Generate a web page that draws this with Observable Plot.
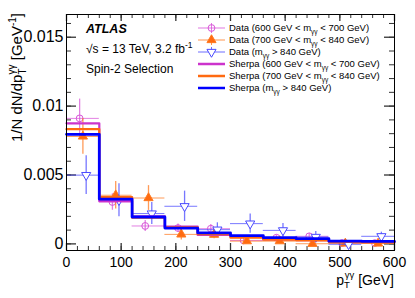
<!DOCTYPE html>
<html>
<head>
<meta charset="utf-8">
<script src="https://cdn.jsdelivr.net/npm/d3@7"></script>
<script src="https://cdn.jsdelivr.net/npm/@observablehq/plot@0.6"></script>
<style>
  html, body { margin: 0; padding: 0; background: #fff; }
  svg text { font-family: "Liberation Sans", Arial, sans-serif; }
</style>
</head>
<body>
<div id="chart"></div>
<script>
// ---- data ----
const binEdges = [0, 60, 120, 180, 240, 300, 360, 420, 480, 540, 600];

const sherpa600 = [0.00875, 0.0031, 0.0020, 0.00125, 0.00065, 0.0005, 0.00032, 0.00028, 0.00015, 0.00014];
const sherpa700 = [0.00833, 0.0034, 0.0019, 0.0012, 0.0007, 0.00045, 0.0003, 0.00025, 0.00015, 0.00012];
const sherpa840 = [0.00795, 0.00325, 0.00195, 0.00115, 0.0008, 0.0006, 0.00045, 0.00038, 0.0002, 0.00018];

const data600 = [0.00911, 0.00304, 0.0013, 0.00115, 0.0011, 0.00025, 0.00045, 0.00055, 0.00006, 0.00006];
const err600  = [0.0014, 0.0006, 0.0004, 0.0003, 0.0003, 0.0002, 0.0002, 0.0002, 0.0001, 0.0001];
const data700 = [0.0078, 0.00353, 0.00333, 0.00069, 0.00067, 0.0002, 0.0002, 0.00001, 0.00003, 0.00003];
const err700  = [0.0013, 0.0010, 0.0009, 0.0004, 0.0003, 0.0002, 0.0002, 0.0001, 0.0001, 0.0001];
const data840 = [0.00499, 0.00317, 0.0022, 0.00273, 0.00103, 0.00147, 0.00098, 0.0005, -0.00003, 0.00055];
const err840  = [0.0014, 0.0012, 0.0008, 0.0011, 0.0005, 0.0007, 0.0005, 0.0004, 0.0002, 0.0003];

const xTickValues = [0, 100, 200, 300, 400, 500, 600];
const yTickValues = [0, 0.005, 0.01, 0.015];
const yTickLabels = ["0", "0.005", "0.01", "0.015"];

// ---- layout ----
const W = 415, H = 298, ML = 66, MR = 21, MT = 14, MB = 48;
const PW = W - ML - MR, PH = H - MT - MB;

const cMag = "#cc33cc", cOra = "#ff6a10", cBlu = "#0000ff";
const cMagD = "#d855d8", cOraD = "#ff7a20", cBluD = "#4a4aff";

function steps(vals) {
  return binEdges.map((e, i) => ({x: e, y: vals[Math.min(i, vals.length - 1)]}));
}
function points(vals, errs, shift) {
  return vals.map((v, i) => {
    const lo = binEdges[i], hi = binEdges[i + 1];
    return {x: (lo + hi) / 2 + shift, lo, hi, y: v, y1: v - errs[i], y2: v + errs[i]};
  });
}
const p600 = points(data600, err600, -6);
const p700 = points(data700, err700, 0);
const p840 = points(data840, err840, 6);

const triangleDown = {
  draw(context, size) {
    const y = Math.sqrt(size / (Math.sqrt(3) * 3));
    context.moveTo(0, y * 2);
    context.lineTo(-Math.sqrt(3) * y, -y);
    context.lineTo(Math.sqrt(3) * y, -y);
    context.closePath();
  }
};

const minorX = d3.range(0, 601, 20);
const minorY = d3.range(0, 0.0165, 0.001);

function errMarks(pts, color, symbol, fill) {
  return [
    Plot.ruleY(pts, {y: "y", x1: "lo", x2: "hi", stroke: color, strokeWidth: 1, strokeOpacity: 0.75}),
    Plot.ruleX(pts, {x: "x", y1: "y1", y2: "y2", stroke: color, strokeWidth: 1.3, strokeOpacity: 0.75}),
    Plot.dot(pts, {x: "x", y: "y", symbol, r: 3.4, stroke: color, strokeWidth: 1, fill})
  ];
}

const chart = Plot.plot({
  width: W, height: H,
  marginLeft: ML, marginRight: MR, marginTop: MT, marginBottom: MB,
  x: {domain: [0, 600]},
  y: {domain: [-0.00048, 0.01665]},
  style: {fontFamily: '"Liberation Sans", Arial, sans-serif', background: "#fff"},
  marks: [
    // inward ticks (ROOT style)
    Plot.tickY(minorY, {y: d => d, insetRight: PW - 5, stroke: "#333"}),
    Plot.tickY(yTickValues, {y: d => d, insetRight: PW - 10, stroke: "#333", strokeWidth: 1.3}),
    Plot.tickY(minorY, {y: d => d, insetLeft: PW - 5, stroke: "#333"}),
    Plot.tickY(yTickValues, {y: d => d, insetLeft: PW - 10, stroke: "#333", strokeWidth: 1.3}),
    Plot.tickX(minorX, {x: d => d, insetTop: PH - 4, stroke: "#333"}),
    Plot.tickX(xTickValues, {x: d => d, insetTop: PH - 7, stroke: "#333", strokeWidth: 1.3}),
    Plot.tickX(minorX, {x: d => d, insetBottom: PH - 4, stroke: "#333"}),
    Plot.tickX(xTickValues, {x: d => d, insetBottom: PH - 7, stroke: "#333", strokeWidth: 1.3}),
    // data
    ...errMarks(p600, cMagD, "circle", "none"),
    ...errMarks(p700, cOraD, "triangle", cOra),
    ...errMarks(p840, cBluD, triangleDown, "white"),
    // Sherpa histograms
    Plot.line(steps(sherpa600), {x: "x", y: "y", curve: "step-after", stroke: cMag, strokeWidth: 2.2}),
    Plot.line(steps(sherpa700), {x: "x", y: "y", curve: "step-after", stroke: cOra, strokeWidth: 2.2}),
    Plot.line(steps(sherpa840), {x: "x", y: "y", curve: "step-after", stroke: cBlu, strokeWidth: 2.8}),
    Plot.frame({stroke: "#000", strokeWidth: 1}),
    Plot.axisY(yTickValues, {tickSize: 0, tickPadding: 3, fontSize: 16, tickFormat: (d, i) => yTickLabels[i], fill: "#000", label: null}),
    Plot.axisX(xTickValues, {tickSize: 0, tickPadding: 7, fontSize: 14, fill: "#000", label: null})
  ]
});

document.getElementById("chart").appendChild(chart);

// ---- annotations ----
const svg = d3.select(chart);
const g = svg.append("g").attr("fill", "#000").attr("text-anchor", "start");

// y title
const yt = g.append("text").attr("transform", "translate(22,13) rotate(-90)")
  .attr("text-anchor", "end").attr("font-size", 15);
yt.append("tspan").text("1/N dN/dp");
yt.append("tspan").attr("font-size", 10).attr("dy", 4).text("T");
yt.append("tspan").attr("font-size", 10).attr("dx", -6).attr("dy", -11).text("γγ");
yt.append("tspan").attr("dy", 7).text(" [GeV");
yt.append("tspan").attr("font-size", 10).attr("dy", -6).text("-1");
yt.append("tspan").attr("dy", 6).text("]");

// x title
const xt = g.append("text").attr("x", 394).attr("y", 285)
  .attr("text-anchor", "end").attr("font-size", 14);
xt.append("tspan").text("p");
xt.append("tspan").attr("font-size", 9.5).attr("dy", 3).text("T");
xt.append("tspan").attr("font-size", 9.5).attr("dx", -5).attr("dy", -10).text("γγ");
xt.append("tspan").attr("dy", 7).text(" [GeV]");

// in-frame labels
g.append("text").attr("x", 86).attr("y", 32.5).attr("font-size", 12.5)
  .attr("font-weight", "bold").attr("font-style", "italic").text("ATLAS");
const s = g.append("text").attr("x", 86).attr("y", 52.5).attr("font-size", 12);
s.append("tspan").text("√s = 13 TeV, 3.2 fb");
s.append("tspan").attr("font-size", 8.5).attr("dy", -5).text("-1");
g.append("text").attr("x", 86).attr("y", 72.5).attr("font-size", 12).text("Spin-2 Selection");

// legend
const legendRows = [
  {kind: "data", color: cMagD, sym: "circle", fill: "none", pre: "Data (600 GeV < m", post: " < 700 GeV)"},
  {kind: "data", color: cOraD, sym: "up", fill: cOra, pre: "Data (700 GeV < m", post: " < 840 GeV)"},
  {kind: "data", color: cBluD, sym: "down", fill: "white", pre: "Data (m", post: " > 840 GeV)"},
  {kind: "mc", color: cMag, pre: "Sherpa (600 GeV < m", post: " < 700 GeV)"},
  {kind: "mc", color: cOra, pre: "Sherpa (700 GeV < m", post: " < 840 GeV)"},
  {kind: "mc", color: cBlu, pre: "Sherpa (m", post: " > 840 GeV)"}
];
legendRows.forEach((r, i) => {
  const cy = 28 + i * 12;
  const lg = g.append("g");
  if (r.kind === "data") {
    lg.append("line").attr("x1", 198).attr("x2", 225).attr("y1", cy).attr("y2", cy)
      .attr("stroke", r.color).attr("stroke-width", 1).attr("stroke-opacity", 0.8);
    lg.append("line").attr("x1", 211.5).attr("x2", 211.5).attr("y1", cy - 5).attr("y2", cy + 5)
      .attr("stroke", r.color).attr("stroke-width", 1).attr("stroke-opacity", 0.8);
    let path;
    if (r.sym === "circle") path = d3.symbol(d3.symbolCircle, 36)();
    else if (r.sym === "up") path = d3.symbol(d3.symbolTriangle, 36)();
    else path = d3.symbol(triangleDown, 36)();
    lg.append("path").attr("d", path).attr("transform", `translate(211.5,${cy})`)
      .attr("fill", r.fill).attr("stroke", r.color).attr("stroke-width", 1);
  } else {
    lg.append("line").attr("x1", 198).attr("x2", 225).attr("y1", cy).attr("y2", cy)
      .attr("stroke", r.color).attr("stroke-width", 2.5);
  }
  const t = lg.append("text").attr("x", 229).attr("y", cy + 3.4).attr("font-size", 9.5).attr("fill", "#000");
  t.append("tspan").text(r.pre);
  t.append("tspan").attr("font-size", 6.5).attr("dy", 3).text("γγ");
  t.append("tspan").attr("dy", -3).text(r.post);
});
</script>
</body>
</html>
